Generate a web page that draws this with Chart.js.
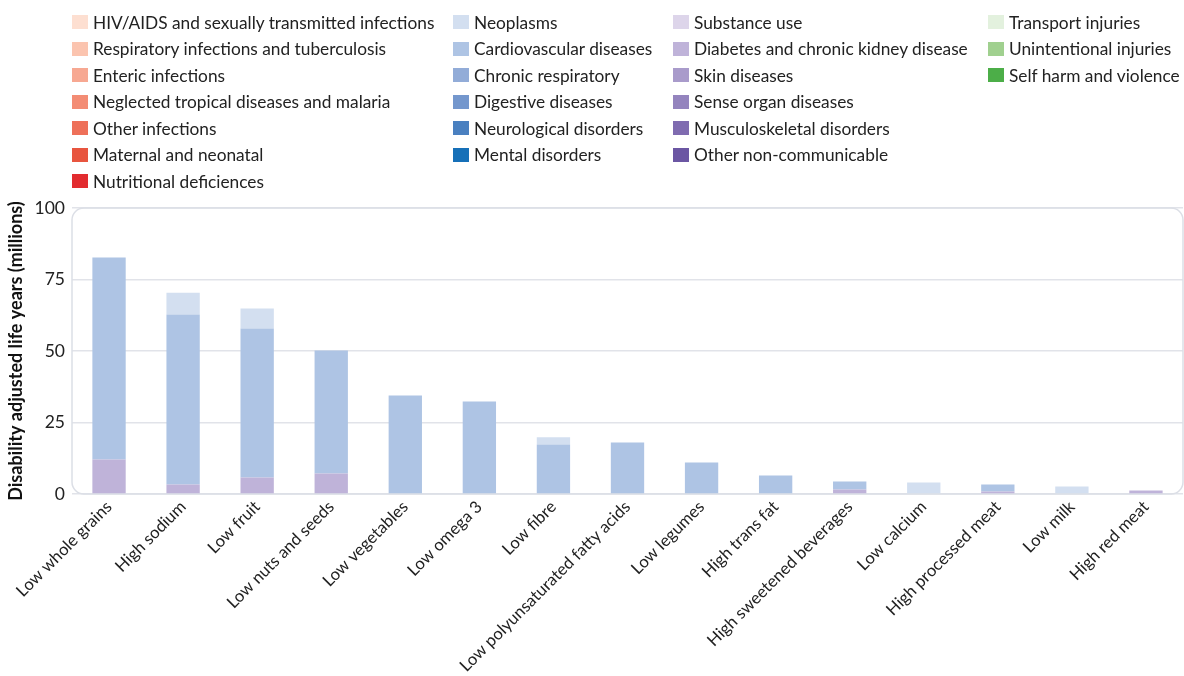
<!DOCTYPE html>
<html><head><meta charset="utf-8">
<script src="https://cdn.jsdelivr.net/npm/chart.js@4"></script>
<style>
html,body{margin:0;padding:0;background:#fff;}
#wrap{position:relative;width:1184px;height:676px;overflow:hidden;}
#legend{position:absolute;left:0;top:0;width:1184px;height:200px;font-family:Lato,"Noto Sans",sans-serif;font-size:17.3px;color:#222;}
.item{position:absolute;display:flex;align-items:center;height:20px;white-space:nowrap;}
.sw{width:16px;height:14px;margin-right:5px;flex:none;}
canvas{position:absolute;left:0;top:0;}
</style></head>
<body>
<div id="wrap">
<canvas id="c" width="1184" height="676"></canvas>
<div id="legend"></div>
</div>
<script>
const categories = ["Low whole grains","High sodium","Low fruit","Low nuts and seeds","Low vegetables","Low omega 3","Low fibre","Low polyunsaturated fatty acids","Low legumes","High trans fat","High sweetened beverages","Low calcium","High processed meat","Low milk","High red meat"];

const seriesNames = ["HIV/AIDS and sexually transmitted infections","Respiratory infections and tuberculosis","Enteric infections","Neglected tropical diseases and malaria","Other infections","Maternal and neonatal","Nutritional deficiences",
"Neoplasms","Cardiovascular diseases","Chronic respiratory","Digestive diseases","Neurological disorders","Mental disorders",
"Substance use","Diabetes and chronic kidney disease","Skin diseases","Sense organ diseases","Musculoskeletal disorders","Other non-communicable",
"Transport injuries","Unintentional injuries","Self harm and violence"];

const seriesColors = ["#fddfd1","#fbc4af","#f7a892","#f38c74","#ee7059","#e8553f","#e22c2f",
"#d3dff0","#aec4e4","#92acd8","#7497cd","#4a80c0","#1670b8",
"#ddd5ea","#bfb3d9","#a99bcb","#9484be","#7f6bb0","#6b56a3",
"#e3f1de","#a0d08f","#4cae48"];

const legendColumnSizes = [7,6,6,3];

const neoplasms      = [0, 7.6, 7.0, 0, 0, 0, 2.5, 0, 0, 0, 0, 4.0, 0, 2.6, 0];
const cardiovascular = [70.6, 59.5, 52.1, 43.0, 34.4, 32.3, 17.3, 18.0, 11.0, 6.5, 2.8, 0, 2.4, 0, 0];
const diabetesCkd    = [12.1, 3.3, 5.8, 7.2, 0, 0, 0, 0, 0, 0, 1.6, 0, 0.9, 0, 1.2];

const yTicks = [0, 25, 50, 75, 100];
const yTitle = "Disability adjusted life years (millions)";

const seriesData = {};
seriesData["Neoplasms"] = neoplasms;
seriesData["Cardiovascular diseases"] = cardiovascular;
seriesData["Diabetes and chronic kidney disease"] = diabetesCkd;

const N = seriesNames.length;
const datasets = seriesNames.map((name, i) => ({
  label: name,
  data: seriesData[name] ? seriesData[name] : categories.map(() => 0),
  backgroundColor: seriesColors[i],
  borderWidth: 0,
  order: N - i,
  barPercentage: 0.45,
  categoryPercentage: 1.0
}));

// HTML legend (column-major)
const legendEl = document.getElementById('legend');
const colX = [72, 453, 673, 988];
const rowY0 = 12, rowStep = 26.5;
let idx = 0;
legendColumnSizes.forEach((count, col) => {
  for (let r = 0; r < count; r++) {
    const i = idx++;
    const d = document.createElement('div');
    d.className = 'item';
    d.style.left = colX[col] + 'px';
    d.style.top = (rowY0 + r * rowStep) + 'px';
    const sw = document.createElement('span');
    sw.className = 'sw';
    sw.style.background = seriesColors[i];
    const t = document.createElement('span');
    t.textContent = seriesNames[i];
    d.appendChild(sw); d.appendChild(t);
    legendEl.appendChild(d);
  }
});

const frame = {
  id: 'frame',
  beforeDatasetsDraw(chart) {
    const a = chart.chartArea, ctx = chart.ctx;
    ctx.save();
    ctx.strokeStyle = '#dcdfe6';
    ctx.lineWidth = 1.5;
    ctx.beginPath();
    ctx.roundRect(a.left, a.top, a.right - a.left, a.bottom - a.top, 12);
    ctx.stroke();
    ctx.restore();
  }
};

new Chart(document.getElementById('c'), {
  type: 'bar',
  data: { labels: categories, datasets },
  plugins: [frame],
  options: {
    responsive: false,
    animation: false,
    layout: { padding: { top: 208, right: 1, bottom: 0, left: 0 } },
    plugins: { legend: { display: false }, tooltip: { enabled: false } },
    scales: {
      x: {
        stacked: true,
        grid: { display: false, drawTicks: false },
        border: { display: false },
        ticks: {
          color: '#222', font: { family: 'Lato', size: 16.7 },
          minRotation: 45, maxRotation: 45, autoSkip: false, padding: 3
        },
        afterFit(s) { s.height = 676 - 494; }
      },
      y: {
        stacked: true,
        min: 0, max: 100,
        afterBuildTicks(s) { s.ticks = yTicks.map(v => ({ value: v })); },
        grid: { color: '#e1e3e9', lineWidth: 1.5, drawTicks: false },
        border: { display: false },
        ticks: { color: '#222', font: { family: 'Lato', size: 17.5 }, padding: 7 },
        title: { display: true, text: yTitle, color: '#111', font: { family: 'Lato', size: 18, weight: 'bold' }, padding: { top: 5, bottom: 0 } },
        afterFit(s) { s.width = 72; }
      }
    }
  }
});
</script>
</body></html>
